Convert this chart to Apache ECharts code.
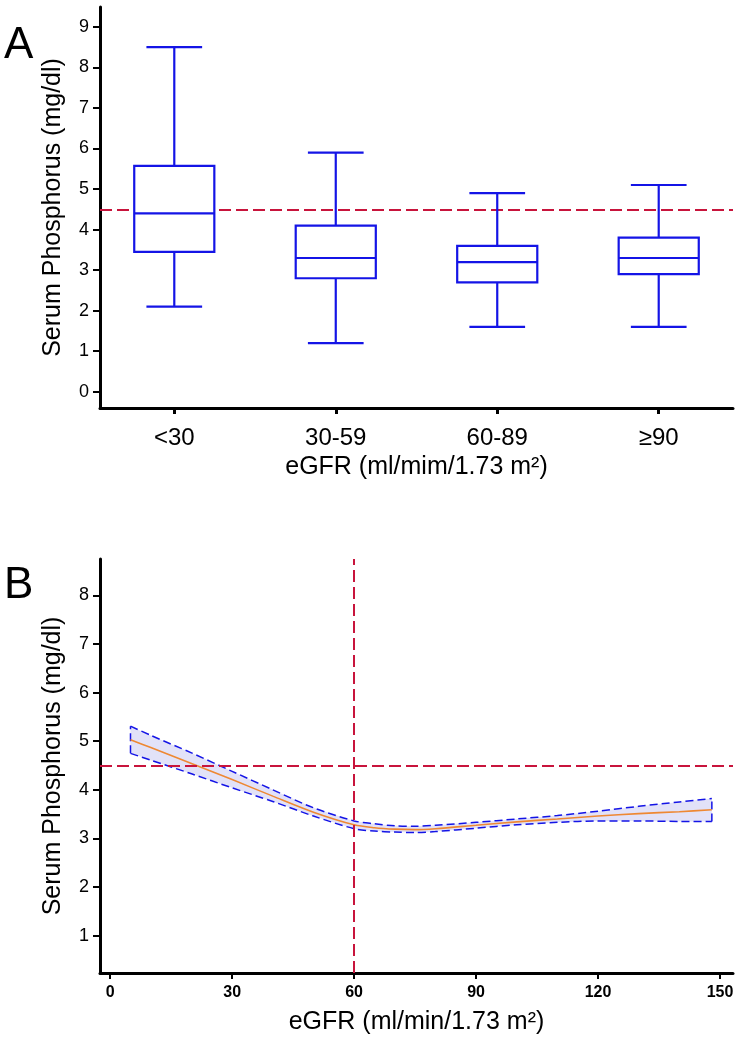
<!DOCTYPE html>
<html>
<head>
<meta charset="utf-8">
<script src="https://cdn.jsdelivr.net/npm/echarts@6/dist/echarts.min.js"></script>
<style>
html,body{margin:0;padding:0;background:#fff;}
#chart{width:740px;height:1040px;}
</style>
</head>
<body>
<div id="chart"></div>
<script>
// ---------- Panel A data ----------
const categories = ['<30', '30-59', '60-89', '≥90'];
const whiskerLow  = [2.1, 1.2, 1.6, 1.6];
const q1          = [3.45, 2.8, 2.7, 2.9];
const median      = [4.4, 3.3, 3.2, 3.3];
const q3          = [5.57, 4.1, 3.6, 3.8];
const whiskerHigh = [8.5, 5.9, 4.9, 5.1];
const refPhos = 4.5;
const yTicksA = [0, 1, 2, 3, 4, 5, 6, 7, 8, 9];

// ---------- Panel B data ----------
const egfr     = [5, 10, 20, 30, 40, 50, 60, 65, 70, 75, 80, 90, 100, 110, 120, 130, 140, 148];
const fitPhos  = [5.03, 4.87, 4.54, 4.21, 3.87, 3.54, 3.28, 3.22, 3.19, 3.18, 3.20, 3.27, 3.34, 3.40, 3.46, 3.51, 3.55, 3.59];
const upperCI  = [5.31, 5.12, 4.76, 4.38, 4.00, 3.63, 3.36, 3.30, 3.26, 3.25, 3.27, 3.33, 3.40, 3.47, 3.56, 3.66, 3.75, 3.82];
const lowerCI  = [4.75, 4.61, 4.33, 4.04, 3.76, 3.46, 3.20, 3.15, 3.13, 3.12, 3.14, 3.21, 3.28, 3.33, 3.36, 3.36, 3.35, 3.35];
const cutoffEgfr = 60;
const xTicksB = [0, 30, 60, 90, 120, 150];
const yTicksB = [1, 2, 3, 4, 5, 6, 7, 8];

const FONT = "'Liberation Sans', Arial, sans-serif";
const BLUE = '#1414e6';
const RED = '#c8143c';

const xPosA = categories.map((c, i) => i + 1);
const boxData = categories.map((c, i) => [xPosA[i], whiskerLow[i], q1[i], median[i], q3[i], whiskerHigh[i]]);
const nB = egfr.length;

const axisLineStyle = { show: true, onZero: false, lineStyle: { color: '#000', width: 3 } };
const ciLine = { color: BLUE, width: 1.5, type: [8, 4] };

const chart = echarts.init(document.getElementById('chart'), null, { renderer: 'canvas' });

chart.setOption({
  animation: false,
  backgroundColor: '#fff',
  textStyle: { fontFamily: FONT },
  graphic: [
    { type: 'text', left: 4, top: 24, style: { text: 'A', font: '44px ' + FONT, fill: '#000' } },
    { type: 'text', left: 4, top: 564, style: { text: 'B', font: '44px ' + FONT, fill: '#000' } }
  ],
  grid: [
    { left: 100, top: 7, width: 633, height: 401 },
    { left: 100, top: 559, width: 633, height: 414 }
  ],
  xAxis: [
    {
      gridIndex: 0, type: 'value', min: 0.54, max: 4.46, position: 'bottom',
      axisLine: axisLineStyle,
      axisTick: { show: true, length: 6, customValues: xPosA, lineStyle: { color: '#000', width: 3 } },
      axisLabel: {
        customValues: xPosA, fontSize: 24, color: '#000', margin: 18, fontFamily: FONT,
        formatter: v => categories[Math.round(v) - 1]
      },
      splitLine: { show: false },
      name: 'eGFR (ml/mim/1.73 m²)', nameLocation: 'middle', nameGap: 47,
      nameTextStyle: { fontSize: 25, color: '#000', fontFamily: FONT }
    },
    {
      gridIndex: 1, type: 'value', min: -2.5, max: 153.2, position: 'bottom',
      axisLine: axisLineStyle,
      axisTick: { show: true, length: 6, customValues: xTicksB, lineStyle: { color: '#000', width: 2 } },
      axisLabel: { customValues: xTicksB, fontSize: 16, fontWeight: 'bold', color: '#000', margin: 12, fontFamily: FONT },
      splitLine: { show: false },
      name: 'eGFR (ml/min/1.73 m²)', nameLocation: 'middle', nameGap: 37,
      nameTextStyle: { fontSize: 25, color: '#000', fontFamily: FONT }
    }
  ],
  yAxis: [
    {
      gridIndex: 0, type: 'value', min: -0.4, max: 9.49,
      axisLine: axisLineStyle,
      axisTick: { show: true, length: 7, customValues: yTicksA, lineStyle: { color: '#000', width: 2 } },
      axisLabel: { customValues: yTicksA, fontSize: 18, color: '#000', margin: 11, fontFamily: FONT },
      splitLine: { show: false },
      name: 'Serum Phosphorus (mg/dl)', nameLocation: 'middle', nameGap: 34,
      nameTextStyle: { fontSize: 25, color: '#000', fontFamily: FONT }
    },
    {
      gridIndex: 1, type: 'value', min: 0.23, max: 8.75,
      axisLine: axisLineStyle,
      axisTick: { show: true, length: 7, customValues: yTicksB, lineStyle: { color: '#000', width: 2 } },
      axisLabel: { customValues: yTicksB, fontSize: 18, color: '#000', margin: 11, fontFamily: FONT },
      splitLine: { show: false },
      name: 'Serum Phosphorus (mg/dl)', nameLocation: 'middle', nameGap: 34,
      nameTextStyle: { fontSize: 25, color: '#000', fontFamily: FONT }
    }
  ],
  series: [
    {
      type: 'custom', xAxisIndex: 0, yAxisIndex: 0, z: 3,
      data: boxData,
      encode: { x: 0, y: [1, 2, 3, 4, 5] },
      renderItem: function (params, api) {
        const x = api.value(0);
        const pLo = api.coord([x, api.value(1)]);
        const pA = api.coord([x, api.value(2)]);
        const pM = api.coord([x, api.value(3)]);
        const pB = api.coord([x, api.value(4)]);
        const pHi = api.coord([x, api.value(5)]);
        const half = api.size([0.496, 0])[0] / 2;
        const capHalf = api.size([0.345, 0])[0] / 2;
        const c = pM[0];
        const st = { stroke: BLUE, lineWidth: 2.2, fill: null };
        return {
          type: 'group',
          children: [
            { type: 'line', shape: { x1: c, y1: pHi[1], x2: c, y2: pB[1] }, style: st },
            { type: 'line', shape: { x1: c, y1: pA[1], x2: c, y2: pLo[1] }, style: st },
            { type: 'line', shape: { x1: c - capHalf, y1: pHi[1], x2: c + capHalf, y2: pHi[1] }, style: st },
            { type: 'line', shape: { x1: c - capHalf, y1: pLo[1], x2: c + capHalf, y2: pLo[1] }, style: st },
            { type: 'rect', shape: { x: c - half, y: pB[1], width: 2 * half, height: pA[1] - pB[1] },
              style: { stroke: BLUE, lineWidth: 2.2, fill: '#fff' } },
            { type: 'line', shape: { x1: c - half, y1: pM[1], x2: c + half, y2: pM[1] }, style: st }
          ]
        };
      },
      markLine: {
        silent: true, symbol: 'none', z: 1, label: { show: false },
        lineStyle: { color: RED, width: 2, type: [12, 5] },
        data: [{ yAxis: refPhos }]
      }
    },
    {
      // confidence band fill + end caps
      type: 'custom', xAxisIndex: 1, yAxisIndex: 1, z: 1,
      data: [[egfr[0], lowerCI[0]]],
      renderItem: function (params, api) {
        const up = egfr.map((x, i) => api.coord([x, upperCI[i]]));
        const lo = egfr.map((x, i) => api.coord([x, lowerCI[i]])).reverse();
        const p0 = api.coord([egfr[0], lowerCI[0]]);
        const p0u = api.coord([egfr[0], upperCI[0]]);
        const p1 = api.coord([egfr[nB - 1], lowerCI[nB - 1]]);
        const p1u = api.coord([egfr[nB - 1], upperCI[nB - 1]]);
        const dash = { stroke: BLUE, lineWidth: 1.5, lineDash: [8, 4], fill: null };
        return {
          type: 'group',
          children: [
            { type: 'polygon', shape: { points: up.concat(lo) }, style: { fill: '#e2e2f8', stroke: null } },
            { type: 'line', shape: { x1: p0[0], y1: p0[1], x2: p0u[0], y2: p0u[1] }, style: dash },
            { type: 'line', shape: { x1: p1[0], y1: p1[1], x2: p1u[0], y2: p1u[1] }, style: dash }
          ]
        };
      }
    },
    {
      name: 'lower', type: 'line', xAxisIndex: 1, yAxisIndex: 1, z: 2,
      data: egfr.map((x, i) => [x, lowerCI[i]]),
      smooth: 0.3, symbol: 'none', lineStyle: ciLine
    },
    {
      name: 'upper', type: 'line', xAxisIndex: 1, yAxisIndex: 1, z: 2,
      data: egfr.map((x, i) => [x, upperCI[i]]),
      smooth: 0.3, symbol: 'none', lineStyle: ciLine
    },
    {
      name: 'fit', type: 'line', xAxisIndex: 1, yAxisIndex: 1, z: 4,
      data: egfr.map((x, i) => [x, fitPhos[i]]),
      smooth: 0.3, symbol: 'none',
      lineStyle: { color: '#ee8833', width: 1.6 },
      markLine: {
        silent: true, symbol: 'none', label: { show: false },
        lineStyle: { color: RED, width: 2, type: [12, 5] },
        data: [{ yAxis: refPhos }, { xAxis: cutoffEgfr }]
      }
    }
  ]
});
</script>
</body>
</html>
